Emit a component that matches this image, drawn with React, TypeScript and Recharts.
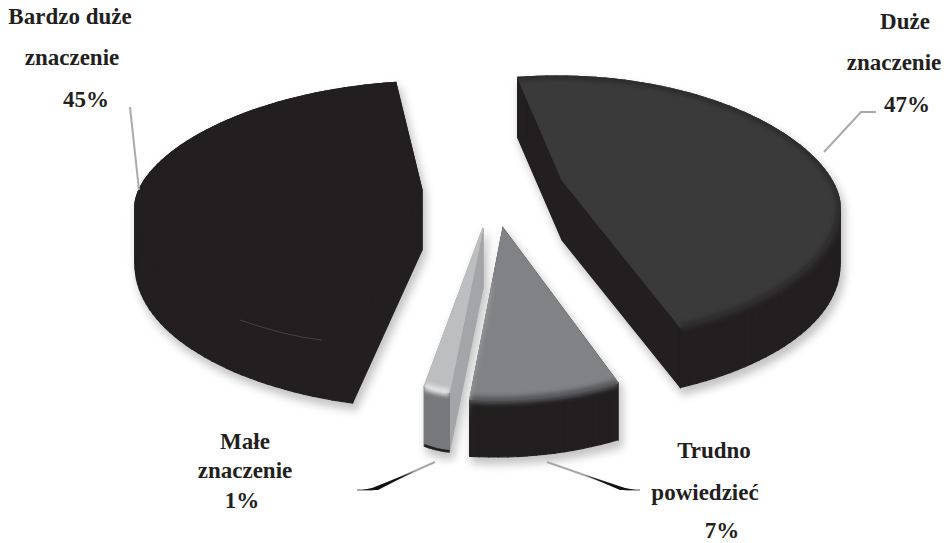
import React from "react";
import { PieChart, Pie } from "recharts";

const categories = ["Duże znaczenie", "Trudno powiedzieć", "Małe znaczenie", "Bardzo duże znaczenie"];
const shares = [47, 7, 1, 45];
const labelLines = [
  ["Duże", "znaczenie", "47%"],
  ["Trudno", "powiedzieć", "7%"],
  ["Małe", "znaczenie", "1%"],
  ["Bardzo duże", "znaczenie", "45%"],
];

const PIE_CX = 473;
const PIE_CY = 210;
const INK = "#231f20";

// Purely presentational 3D settings per slice (offsets from the pie centre)
const look = [
  { ax: 89, ay: -30, ex: 84, ey: -5, rx: 283, ryT: 129, ryB: 136, depth: 60, top: "#3a3a3b", wall: INK, facet: INK, bevel: "#2d2b2c" },
  { ax: 30, ay: 18, ex: 22, ey: 18, rx: 282, ryT: 172, ryB: 172, depth: 57, top: "#808285", wall: INK, facet: INK, bevel: "#55565a" },
  { ax: 10, ay: 18, ex: -12, ey: 18, rx: 130, ryT: 165, ryB: 165, depth: 60, top: "#bcbec0", wall: "#77787b", facet: "#a3a5a8", bevel: "#e2e3e4" },
  { ax: -51, ay: -20, ex: -35, ey: -5, rx: 303, ryT: 124, ryB: 144, depth: 60, top: INK, wall: INK, facet: INK, bevel: INK },
];

const labelLook = [
  { xs: [905, 894, 907], ys: [29, 70, 112] },
  { xs: [714, 705, 722], ys: [458, 500, 538] },
  { xs: [245, 245, 242], ys: [449, 478, 508] },
  { xs: [70, 72, 86], ys: [24, 65, 107] },
];

const leaders = [
  { line: "M876 112 L861 112 L824 152", tip: "" },
  { line: "M547 462 L627 490 L640 490", tip: "M585 475 L625 488 L636 490 L620 490 Z" },
  { line: "M435 462 L372 490 L357 490", tip: "M415 471 L372 488 L362 490 L378 490 Z" },
  { line: "M130 107 L139 190", tip: "" },
];

type P = [number, number];
const toPath = (pts: P[]) => "M" + pts.map((p) => `${p[0].toFixed(1)} ${p[1].toFixed(1)}`).join(" L") + " Z";

function Slice3D(props: any) {
  const { cx, cy, startAngle, endAngle, index } = props;
  const g = look[index];
  const apex: P = [cx + g.ax, cy + g.ay];
  const steps = Math.max(6, Math.ceil(Math.abs(endAngle - startAngle) / 2));
  const arc: P[] = [];
  for (let i = 0; i <= steps; i++) {
    const t = ((startAngle + ((endAngle - startAngle) * i) / steps) * Math.PI) / 180;
    const s = Math.sin(t);
    const y = s >= 0 ? -g.ryT * Math.pow(s, 1.15) : -g.ryB * s;
    arc.push([cx + g.ex + g.rx * Math.cos(t), cy + g.ey + y]);
  }
  const down = (p: P, d = g.depth): P => [p[0], p[1] + d];
  const topFace = [apex, ...arc];
  const first = arc[0];
  const last = arc[arc.length - 1];
  const wallQuads = arc.slice(1).map((p, i) => toPath([arc[i], p, down(p), down(arc[i])]));
  const facets = [toPath([apex, first, down(first), down(apex)]), toPath([apex, last, down(last), down(apex)])];
  const arcLine = "M" + arc.map((p) => `${p[0].toFixed(1)} ${p[1].toFixed(1)}`).join(" L");
  const bottomLine = "M" + arc.map((p) => `${p[0].toFixed(1)} ${(p[1] + g.depth - 1).toFixed(1)}`).join(" L");
  return (
    <g>
      <g transform="translate(3 6)" style={{ filter: "blur(4px)" }}>
        {[...wallQuads, ...facets, toPath(topFace)].map((d, i) => (
          <path key={i} d={d} fill="#c4c4c4" stroke="#c4c4c4" strokeWidth={3} />
        ))}
      </g>
      {facets.map((d, i) => (
        <path key={i} d={d} fill={g.facet} stroke={g.facet} strokeWidth={1.2} />
      ))}
      {wallQuads.map((d, i) => (
        <path key={i} d={d} fill={g.wall} stroke={g.wall} strokeWidth={1.2} />
      ))}
      <path d={toPath(topFace)} fill={g.top} stroke={g.top} strokeWidth={1.2} />
      <clipPath id={`bevel-${index}`}>
        {[...wallQuads, toPath(topFace)].map((d, i) => (
          <path key={i} d={d} />
        ))}
      </clipPath>
      <g clipPath={`url(#bevel-${index})`}>
        <path d={arcLine} fill="none" stroke={g.bevel} strokeWidth={7} style={{ filter: "blur(2px)" }} />
      </g>
      {index === 2 && <path d={bottomLine} fill="none" stroke={INK} strokeWidth={2.5} />}
      {index === 3 && <path d="M240 320 Q285 336 322 340" fill="none" stroke="#4a4a4a" strokeWidth={0.8} />}
    </g>
  );
}

function SliceLabel(props: any) {
  const { index } = props;
  const pos = labelLook[index];
  const lead = leaders[index];
  return (
    <g>
      <path d={lead.line} fill="none" stroke="#a7a9ac" strokeWidth={2} />
      {lead.tip && <path d={lead.tip} fill="#111" />}
      {labelLines[index].map((line, i) => (
        <text
          key={line}
          x={pos.xs[i]}
          y={pos.ys[i]}
          textAnchor="middle"
          fontFamily="'Liberation Serif', serif"
          fontWeight="bold"
          fontSize={23}
          fill={INK}
        >
          {line}
        </text>
      ))}
    </g>
  );
}

const rows = categories.map((name, i) => ({ name, value: shares[i] }));

export default function App() {
  return (
    <div style={{ position: "absolute", left: 0, top: 0, width: 947, height: 543 }}>
      <PieChart width={947} height={543} margin={{ top: 0, right: 0, bottom: 0, left: 0 }}>
        <Pie
          data={rows}
          dataKey="value"
          nameKey="name"
          cx={PIE_CX}
          cy={PIE_CY}
          outerRadius={200}
          startAngle={98}
          endAngle={-262}
          minAngle={8}
          paddingAngle={0}
          stroke="none"
          isAnimationActive={false}
          shape={Slice3D}
          label={SliceLabel}
          labelLine={false}
        />
      </PieChart>
    </div>
  );
}
